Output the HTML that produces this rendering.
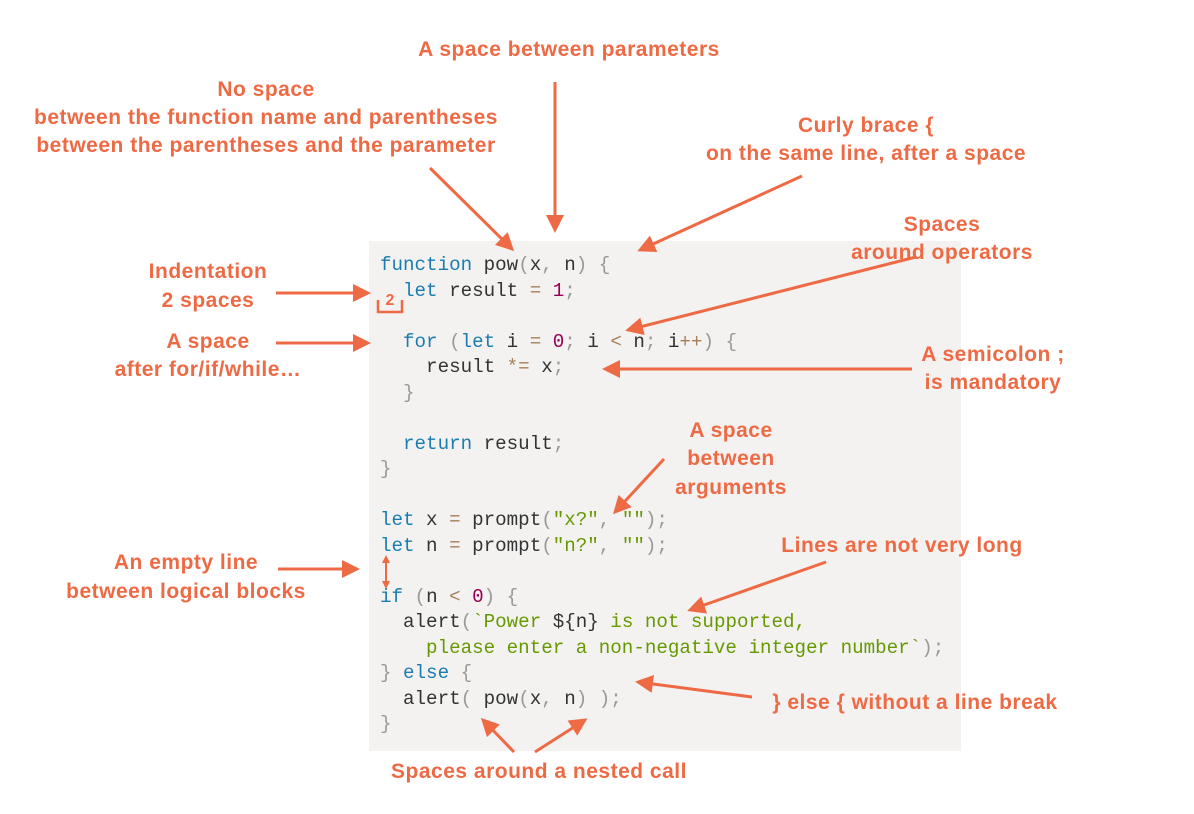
<!DOCTYPE html>
<html><head><meta charset="utf-8"><style>
body{margin:0;width:1194px;height:814px;background:#fff;position:relative;overflow:hidden}
.code{position:absolute;left:369px;top:241px;width:592px;height:510px;background:#f3f2f1}
.l{position:absolute;left:380px;font:19.2px/1 "Liberation Mono",monospace;color:#333;white-space:pre}
.k{color:#1b7cb0}.p{color:#999}.o{color:#a67f59}.n{color:#990055}.s{color:#669900}
svg{position:absolute;left:0;top:0}
text{font-family:"Liberation Sans",sans-serif;font-weight:bold;font-size:21px;letter-spacing:0.5px;fill:#ee6a44;text-anchor:middle}
</style></head><body>
<div class="code"></div>
<div class="l" style="top:256px"><span class="k">function</span> pow<span class="p">(</span>x<span class="p">,</span> n<span class="p">)</span> <span class="p">{</span></div>
<div class="l" style="top:282px">  <span class="k">let</span> result <span class="o">=</span> <span class="n">1</span><span class="p">;</span></div>
<div class="l" style="top:333px">  <span class="k">for</span> <span class="p">(</span><span class="k">let</span> i <span class="o">=</span> <span class="n">0</span><span class="p">;</span> i <span class="o">&lt;</span> n<span class="p">;</span> i<span class="o">++</span><span class="p">)</span> <span class="p">{</span></div>
<div class="l" style="top:358px">    result <span class="o">*=</span> x<span class="p">;</span></div>
<div class="l" style="top:384px">  <span class="p">}</span></div>
<div class="l" style="top:435px">  <span class="k">return</span> result<span class="p">;</span></div>
<div class="l" style="top:460px"><span class="p">}</span></div>
<div class="l" style="top:511px"><span class="k">let</span> x <span class="o">=</span> prompt<span class="p">(</span><span class="s">"x?"</span><span class="p">,</span> <span class="s">""</span><span class="p">);</span></div>
<div class="l" style="top:537px"><span class="k">let</span> n <span class="o">=</span> prompt<span class="p">(</span><span class="s">"n?"</span><span class="p">,</span> <span class="s">""</span><span class="p">);</span></div>
<div class="l" style="top:588px"><span class="k">if</span> <span class="p">(</span>n <span class="o">&lt;</span> <span class="n">0</span><span class="p">)</span> <span class="p">{</span></div>
<div class="l" style="top:613px">  alert<span class="p">(</span><span class="s">`Power </span>${n}<span class="s"> is not supported,</span></div>
<div class="l" style="top:639px"><span class="s">    please enter a non-negative integer number`</span><span class="p">);</span></div>
<div class="l" style="top:664px"><span class="p">}</span> <span class="k">else</span> <span class="p">{</span></div>
<div class="l" style="top:690px">  alert<span class="p">(</span> pow<span class="p">(</span>x<span class="p">,</span> n<span class="p">)</span> <span class="p">);</span></div>
<div class="l" style="top:715px"><span class="p">}</span></div>
<svg width="1194" height="814">
<defs><marker id="a" markerWidth="6" markerHeight="6" refX="5" refY="3" orient="auto" markerUnits="strokeWidth"><path d="M0,0L6,3L0,6z" fill="#ee6a44"/></marker>
<marker id="b" markerWidth="4" markerHeight="4" refX="3" refY="2" orient="auto-start-reverse" markerUnits="strokeWidth"><path d="M0,0L4,2L0,4z" fill="#ee6a44"/></marker></defs>
<g stroke="#ee6a44" stroke-width="3" fill="none" marker-end="url(#a)">
<line x1="430" y1="168" x2="512" y2="249"/>
<line x1="555" y1="82" x2="555" y2="230"/>
<line x1="802" y1="176" x2="640" y2="250"/>
<line x1="276" y1="293" x2="368" y2="293"/>
<line x1="276" y1="343" x2="368" y2="343"/>
<line x1="916" y1="257" x2="628" y2="330"/>
<line x1="912" y1="369" x2="605" y2="369"/>
<line x1="664" y1="459" x2="615" y2="512"/>
<line x1="826" y1="562" x2="690" y2="610"/>
<line x1="278" y1="569" x2="357" y2="569"/>
<line x1="752" y1="697" x2="638" y2="682"/>
<line x1="514" y1="752" x2="483" y2="720"/>
<line x1="535" y1="752" x2="585" y2="720"/>
</g>
<line x1="386" y1="557" x2="386" y2="587" stroke="#ee6a44" stroke-width="2" marker-start="url(#b)" marker-end="url(#b)"/>
<path d="M378,300V312H402V300" stroke="#ee6a44" stroke-width="2.5" fill="none"/>
<text x="390" y="305" style="font-size:16px;letter-spacing:0">2</text>
<text x="569" y="56">A space between parameters</text>
<text x="266" y="96">No space</text>
<text x="266" y="124">between the function name and parentheses</text>
<text x="266" y="152">between the parentheses and the parameter</text>
<text x="866" y="132">Curly brace {</text>
<text x="866" y="160">on the same line, after a space</text>
<text x="942" y="231">Spaces</text>
<text x="942" y="259">around operators</text>
<text x="208" y="278">Indentation</text>
<text x="208" y="307">2 spaces</text>
<text x="208" y="348">A space</text>
<text x="208" y="376">after for/if/while…</text>
<text x="993" y="361">A semicolon ;</text>
<text x="993" y="389">is mandatory</text>
<text x="731" y="437">A space</text>
<text x="731" y="465">between</text>
<text x="731" y="494">arguments</text>
<text x="902" y="552">Lines are not very long</text>
<text x="186" y="569">An empty line</text>
<text x="186" y="598">between logical blocks</text>
<text x="915" y="709">} else { without a line break</text>
<text x="539" y="778">Spaces around a nested call</text>
</svg>
</body></html>
